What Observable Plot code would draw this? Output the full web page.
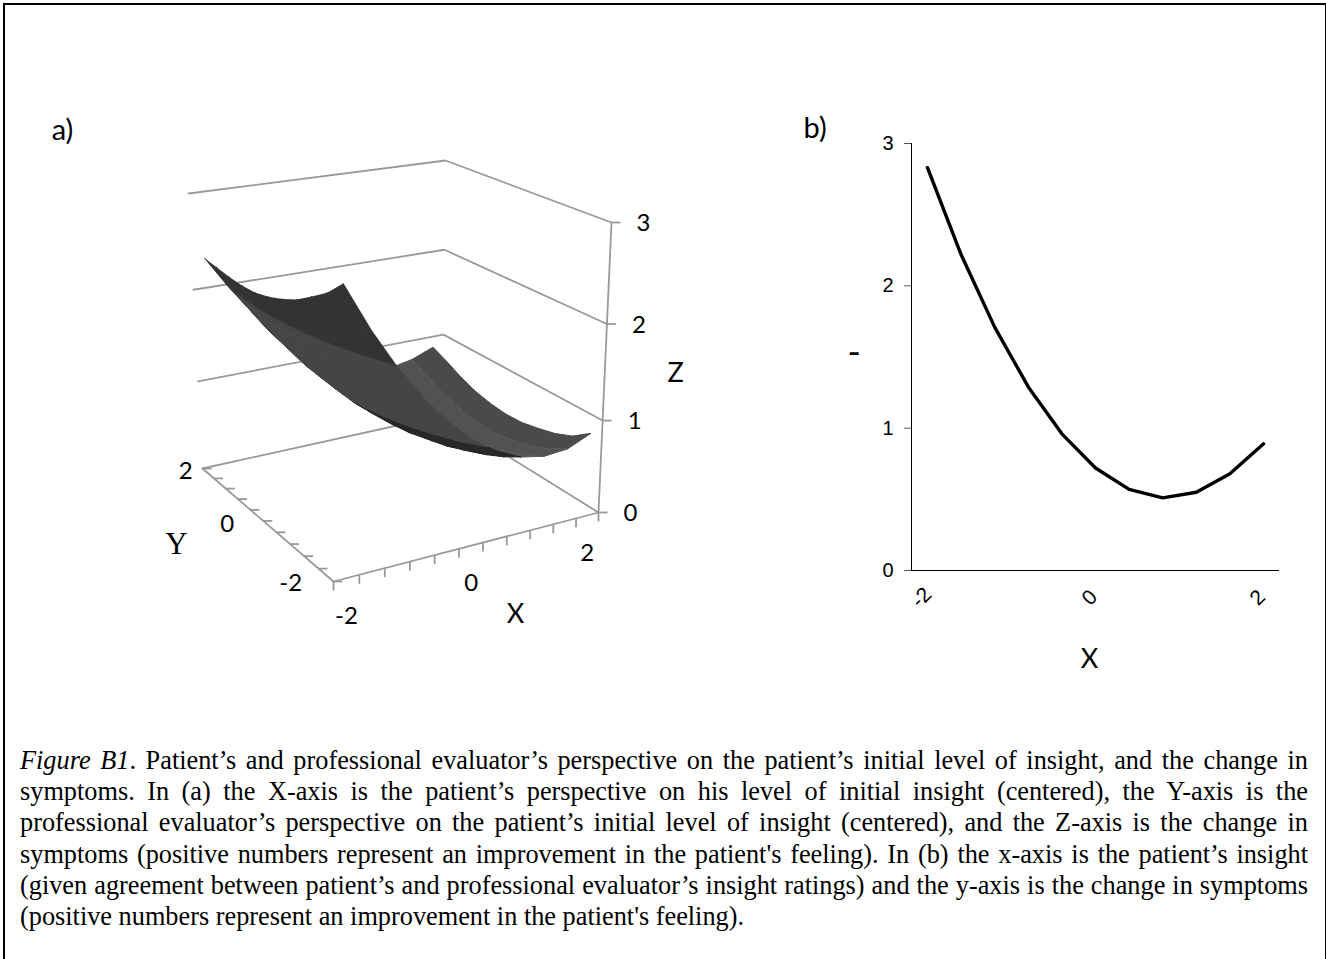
<!DOCTYPE html>
<html><head><meta charset="utf-8">
<script src="https://cdn.jsdelivr.net/npm/d3@7"></script>
<script src="https://cdn.jsdelivr.net/npm/@observablehq/plot@0.6"></script>
<style>
html,body{margin:0;padding:0;background:#fff}
#page{position:relative;width:1326px;height:959px;overflow:hidden;background:#fff}
#frame{position:absolute;left:3px;top:3px;width:1320px;height:970px;border:2px solid #000;border-right-width:1px}
#a,#b{position:absolute;top:0}
#a{left:0}#b{left:780px}
#caption{position:absolute;left:20px;width:1288px;top:745px;font:26.3px/31.2px "Liberation Serif",serif;color:#000}
#caption div{text-align:justify;text-align-last:justify;white-space:nowrap}
#caption div.last{text-align-last:left}
</style></head><body>
<div id="page"><div id="frame"></div><div id="a"></div><div id="b"></div><div id="caption"></div></div>
<script>
// ---------- data ----------
const gridX = [-2,-1.6,-1.2,-0.8,-0.4,0,0.4,0.8,1.2,1.6,2];
const gridY = [-2,-1.6,-1.2,-0.8,-0.4,0,0.4,0.8,1.2,1.6,2];
// change in symptoms; one row per X, one column per Y
const surfaceZ = [
 [2.85,2.68,2.56,2.45,2.37,2.31,2.27,2.26,2.27,2.29,2.31],
 [2.37,2.23,2.11,2.01,1.93,1.88,1.85,1.84,1.85,1.88,1.94],
 [1.97,1.83,1.71,1.62,1.55,1.50,1.48,1.47,1.49,1.53,1.60],
 [1.62,1.49,1.38,1.29,1.23,1.18,1.16,1.17,1.19,1.24,1.31],
 [1.33,1.21,1.10,1.02,0.96,0.92,0.91,0.92,0.95,1.00,1.07],
 [1.10,0.98,0.88,0.81,0.75,0.72,0.71,0.73,0.76,0.82,0.90],
 [0.93,0.81,0.72,0.65,0.60,0.58,0.57,0.59,0.63,0.70,0.78],
 [0.81,0.70,0.61,0.55,0.51,0.49,0.49,0.52,0.56,0.63,0.72],
 [0.76,0.66,0.58,0.52,0.47,0.46,0.47,0.50,0.55,0.63,0.72],
 [0.78,0.67,0.59,0.53,0.49,0.49,0.50,0.54,0.60,0.68,0.77],
 [0.89,0.75,0.67,0.62,0.58,0.57,0.59,0.63,0.70,0.79,0.87]
];
const lineX = [-2,-1.6,-1.2,-0.8,-0.4,0,0.4,0.8,1.2,1.6,2];
const lineZ = [2.83,2.22,1.71,1.29,0.96,0.72,0.57,0.51,0.55,0.68,0.89];
const xTicks3d = [-2.2,-1.8,-1.4,-1,-0.6,-0.2,0.2,0.6,1,1.4,1.8,2.2];
const yTicks3d = [-2.2,-1.76,-1.32,-0.88,-0.44,0,0.44,0.88,1.32,1.76,2.2];
const zLevels = [0,1,2,3];
const xLabels3d = [-2,0,2];
const yLabels3d = [2,0,-2];
const zBands = [1,2];                       // colour breaks of the surface
const undersideColors = ["#282828","#454545","#333333"];
// sheet seen from above: one shade for each X strip of the grid
const topsideByX = ["#5a5a5a","#5a5a5a","#5a5a5a","#5a5a5a","#5a5a5a","#5a5a5a","#585858","#565656","#525252","#4a4a4a"];
const captionLines = [
 "<i>Figure B1</i>. Patient’s and professional evaluator’s perspective on the patient’s initial level of insight, and the change in",
 "symptoms. In (a) the X-axis is the patient’s perspective on his level of initial insight (centered), the Y-axis is the",
 "professional evaluator’s perspective on the patient’s initial level of insight (centered), and the Z-axis is the change in",
 "symptoms (positive numbers represent an improvement in the patient's feeling). In (b) the x-axis is the patient’s insight",
 "(given agreement between patient’s and professional evaluator’s insight ratings) and the y-axis is the change in symptoms",
 "(positive numbers represent an improvement in the patient's feeling)."
];
// ---------- camera: where the box corners fall in the scene ----------
const floorCorners = [[333,581],[598,512],[442,415],[202,468]];   // (-,-) (+,-) (+,+) (-,+)
const roofCorners  = [[328,269],[611,222],[445,160],[188,193]];
const zWarp = d3.scaleLinear().domain(zLevels).range([0,0.317,0.65,1]);
function homography(q){
  const [[x0,y0],[x1,y1],[x2,y2],[x3,y3]] = q;
  const dx1=x1-x2,dx2=x3-x2,sx=x0-x1+x2-x3,dy1=y1-y2,dy2=y3-y2,sy=y0-y1+y2-y3;
  const det=dx1*dy2-dx2*dy1,g=(sx*dy2-dx2*sy)/det,h=(dx1*sy-sx*dy1)/det;
  const a=x1-x0+g*x1,b=x3-x0+h*x3,d=y1-y0+g*y1,e=y3-y0+h*y3;
  return (u,v)=>{const w=g*u+h*v+1;return [(a*u+b*v+x0)/w,(d*u+e*v+y0)/w];};
}
const floorH=homography(floorCorners), roofH=homography(roofCorners);
const boxR=2.2, surfaceYStretch=1.1;
function project(X,Y,Z){
  const u=(X+boxR)/(2*boxR), v=(Y+boxR)/(2*boxR), t=zWarp(Z);
  const f=floorH(u,v), r=roofH(u,v);
  return [f[0]+(r[0]-f[0])*t, f[1]+(r[1]-f[1])*t];
}
const projectSurface=(X,Y,Z)=>project(X,Y*surfaceYStretch,Z);
// ---------- surface polygons, far to near, cut at the colour breaks ----------
function clip(poly,lo,hi){
  const cut=(pts,inside,level)=>{
    const out=[];
    pts.forEach((p,i)=>{
      const q=pts[(i+1)%pts.length], pi=inside(p[2]), qi=inside(q[2]);
      if(pi) out.push(p);
      if(pi!==qi){const t=(level-p[2])/(q[2]-p[2]);out.push([p[0]+t*(q[0]-p[0]),p[1]+t*(q[1]-p[1]),level]);}
    });
    return out;
  };
  let r=poly;
  if(lo!=null&&r.length) r=cut(r,z=>z>=lo,lo);
  if(hi!=null&&r.length) r=cut(r,z=>z<=hi,hi);
  return r;
}
const surfaceRows=[]; let pid=0;
for(let i=gridX.length-2;i>=0;i--) for(let j=gridY.length-2;j>=0;j--){
  const quad=[[gridX[i],gridY[j],surfaceZ[i][j]],[gridX[i+1],gridY[j],surfaceZ[i+1][j]],
              [gridX[i+1],gridY[j+1],surfaceZ[i+1][j+1]],[gridX[i],gridY[j+1],surfaceZ[i][j+1]]];
  const s=quad.map(p=>projectSurface(...p));
  let area=0; s.forEach((p,k)=>{const q=s[(k+1)%4];area+=p[0]*q[1]-q[0]*p[1];});
  const edges=[null,...zBands,null];
  for(let b=0;b<edges.length-1;b++){
    const part=clip(quad,edges[b],edges[b+1]);
    if(part.length<3) continue;
    pid++;
    const color = area<0 ? topsideByX[i] : undersideColors[b];
    part.forEach(p=>{const [x,y]=projectSurface(...p);surfaceRows.push({x,y,id:pid,color});});
  }
}
// ---------- box lines ----------
const boxRows=[]; let lid=0;
const addLine=pts=>{lid++;pts.forEach(p=>{const [x,y]=project(...p);boxRows.push({x,y,id:lid});});};
zLevels.forEach(z=>addLine([[-boxR,boxR,z],[boxR,boxR,z],[boxR,-boxR,z]]));
addLine([[-boxR,boxR,0],[-boxR,-boxR,0],[boxR,-boxR,0]]);
addLine([[boxR,-boxR,0],[boxR,-boxR,3]]);
const tickLen=9;
const tickRows=[
 ...xTicks3d.map(v=>{const [x,y]=project(v,-boxR,0);return {x1:x,y1:y,x2:x,y2:y+tickLen};}),
 ...yTicks3d.map(v=>{const [x,y]=project(-boxR,v,0);return {x1:x,y1:y,x2:x+tickLen,y2:y};}),
 ...zLevels.map(v=>{const [x,y]=project(boxR,-boxR,v);return {x1:x,y1:y,x2:x+tickLen,y2:y};})
];
const labelRows=[
 ...xLabels3d.map(v=>{const [x,y]=project(v,-boxR,0);return {x,y:y+38,t:String(v)};}),
 ...yLabels3d.map((v,i)=>{const [x,y]=project(-boxR,v,0);return {x:x-[22,36,36][i],y:y+[-2,3,8][i],t:String(v)};}),
 ...zLevels.map(v=>{const [x,y]=project(boxR,-boxR,v);return {x:x+32,y:y+1,t:String(v)};})
];
const sans='Lato,"Noto Sans",sans-serif';
const arial='"Liberation Sans",sans-serif';
const plotA=Plot.plot({
  width:720,height:680,margin:0,
  x:{domain:[0,720],range:[0,720],axis:null},
  y:{domain:[0,680],range:[0,680],axis:null},
  style:{background:"transparent"},
  marks:[
    Plot.line(boxRows,{x:"x",y:"y",z:"id",stroke:"#999",strokeWidth:1.8}),
    Plot.link(tickRows,{x1:"x1",y1:"y1",x2:"x2",y2:"y2",stroke:"#999",strokeWidth:1.8}),
    Plot.line(surfaceRows,{x:"x",y:"y",z:"id",fill:"color",stroke:"color",strokeWidth:1}),
    Plot.text(labelRows,{x:"x",y:"y",text:"t",fontSize:24,fontFamily:sans,fill:"#000"}),
    Plot.text(["a)"],{x:()=>62,y:()=>130,fontSize:29,fontFamily:sans,fill:"#000"}),
    Plot.text(["X"],{x:()=>515,y:()=>614,fontSize:27,fontFamily:sans,fill:"#000"}),
    Plot.text(["Z"],{x:()=>675,y:()=>373,fontSize:27,fontFamily:sans,fill:"#000"}),
    Plot.text(["Y"],{x:()=>176,y:()=>544,fontSize:31,fontFamily:'"Liberation Serif",serif',fill:"#000"})
  ]
});
document.getElementById("a").append(plotA);
const lineRows=lineX.map((x,i)=>({x,y:lineZ[i]}));
const plotB=Plot.plot({
  width:520,height:700,marginLeft:131,marginRight:21,marginTop:143,marginBottom:130,
  x:{domain:[-2.19,2.19],axis:null},
  y:{domain:[0,3],axis:null},
  style:{background:"transparent"},
  marks:[
    Plot.axisY({ticks:[0,1,2,3],tickFormat:"d",tickSize:7,tickPadding:11,stroke:"#555",fontSize:20,fontFamily:arial,label:null,fill:"#000"}),
    Plot.text([-2,0,2],{x:d=>d,y:()=>0,text:d=>String(d),rotate:-45,dx:-6,dy:27,fontSize:21,fontFamily:arial,fill:"#000"}),
    Plot.ruleX([-2.19],{stroke:"#000"}),
    Plot.ruleY([0],{stroke:"#000"}),
    Plot.line(lineRows,{x:"x",y:"y",stroke:"#000",strokeWidth:3.4}),
    Plot.text(["X"],{x:()=>0,y:()=>0,dx:-6,dy:89,fontSize:27,fontFamily:sans,fill:"#000"}),
    Plot.text(["-"],{frameAnchor:"left",dx:-64,dy:-4,fontSize:36,fontFamily:sans,fill:"#000"}),
    Plot.text(["b)"],{frameAnchor:"top-left",dx:-108,dy:-26,fontSize:29,fontFamily:sans,fill:"#000"})
  ]
});
document.getElementById("b").append(plotB);
const cap=document.getElementById("caption");
captionLines.forEach((l,i)=>{const d=document.createElement("div");d.innerHTML=l;if(i===captionLines.length-1)d.className="last";cap.append(d);});
</script></body></html>
